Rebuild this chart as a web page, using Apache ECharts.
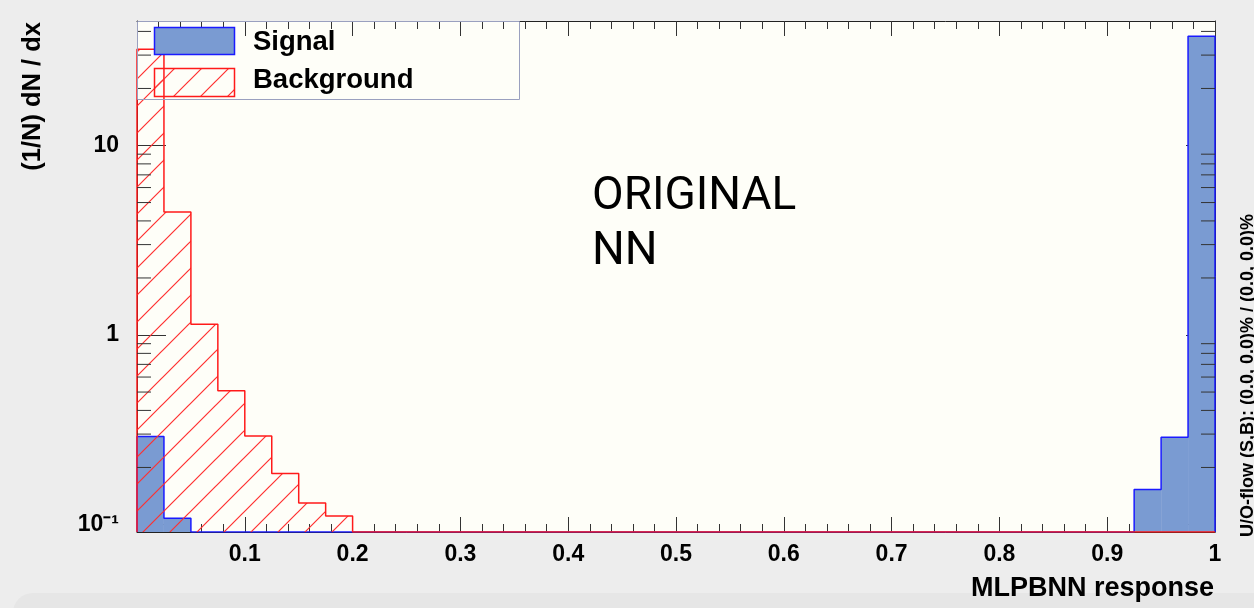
<!DOCTYPE html>
<html><head><meta charset="utf-8">
<script src="https://cdn.jsdelivr.net/npm/echarts@6/dist/echarts.min.js"></script>
<style>html,body{margin:0;padding:0;background:#ededed}#c{width:1254px;height:608px}</style>
</head><body><div id="c"></div>
<script>
// ---- data ----
const binEdges = [0,0.025,0.05,0.075,0.1,0.125,0.15,0.175,0.2,0.225,0.25,0.275,0.3,0.325,0.35,0.375,0.4,0.425,0.45,0.475,0.5,0.525,0.55,0.575,0.6,0.625,0.65,0.675,0.7,0.725,0.75,0.775,0.8,0.825,0.85,0.875,0.9,0.925,0.95,0.975,1];
const signal = [0.291,0.108,0,0,0,0,0,0,0,0,0,0,0,0,0,0,0,0,0,0,0,0,0,0,0,0,0,0,0,0,0,0,0,0,0,0,0,0.153,0.289,37.7];
const background = [32.2,4.46,1.14,0.508,0.293,0.186,0.130,0.111,0,0,0,0,0,0,0,0,0,0,0,0,0,0,0,0,0,0,0,0,0,0,0,0,0,0,0,0,0,0,0,0];
const xTickValues = [0,0.1,0.2,0.3,0.4,0.5,0.6,0.7,0.8,0.9,1];
const yTickValues = [0.1,1,10];
const yTickLabels = ['10⁻¹','1','10'];
const yMinorTicks = [0.2,0.3,0.4,0.5,0.6,0.7,0.8,0.9,2,3,4,5,6,7,8,9,20,30,40];
const seriesNames = ['Signal','Background'];
const Y_MIN = 0.0913, Y_MAX = 45.4;

// ---- styles ----
const SIG_FILL = '#7a9bd2', SIG_LINE = '#1a1aff', BKG_LINE = '#ff1a1a', HATCH = '#ff3030';
const HATCH_STEP = 27;
function hatchCanvas(){
  const s = HATCH_STEP, c = document.createElement('canvas');
  c.width = s; c.height = s;
  const g = c.getContext('2d');
  g.clearRect(0, 0, s, s);
  g.strokeStyle = HATCH; g.lineWidth = 1.2;
  g.beginPath();
  g.moveTo(-2, s+2); g.lineTo(s+2, -2);
  g.moveTo(-2, 2); g.lineTo(2, -2);
  g.moveTo(s-2, s+2); g.lineTo(s+2, s-2);
  g.stroke();
  return c;
}
const hatchImg = hatchCanvas();
const hatch = () => ({image: hatchImg, repeat: 'repeat'});

function binData(vals){
  const out = [];
  vals.forEach((v,i)=>{ if (v>0) out.push([binEdges[i], binEdges[i+1], v]); });
  return out;
}
function outlineData(vals){
  const out = [[0, Y_MIN]];
  vals.forEach((v,i)=> out.push([binEdges[i], Math.max(v, Y_MIN)]));
  out.push([1, Math.max(vals[vals.length-1], Y_MIN)]);
  out.push([1, Y_MIN]);
  return out;
}
function fillRender(params, api){
  const p0 = api.coord([api.value(0), api.value(2)]);
  const p1 = api.coord([api.value(1), Y_MIN]);
  return {type:'rect', shape:{x:p0[0], y:p0[1], width:p1[0]-p0[0], height:p1[1]-p0[1]}, style:{fill:SIG_FILL, stroke:null}};
}

const chart = echarts.init(document.getElementById('c'), null, {renderer:'canvas'});
const bold = 'Liberation Sans, Arial, sans-serif';
const tickColor = '#333';

const xAxisBase = {
  type:'value', min:0, max:1, interval:0.1,
  axisLine:{show:true, onZero:false, lineStyle:{color:'#222', width:1}},
  axisTick:{show:true, inside:true, length:15, lineStyle:{color:tickColor}},
  minorTick:{show:true, splitNumber:5, length:8, lineStyle:{color:tickColor}},
  splitLine:{show:false}
};
const yAxisBase = {
  type:'log', logBase:10, min:Y_MIN, max:Y_MAX,
  axisLine:{show:true, onZero:false, lineStyle:{color:'#222', width:1}},
  axisTick:{show:true, inside:true, length:29, customValues:yTickValues, lineStyle:{color:tickColor}},
  splitLine:{show:false}
};

const staticGraphics = [
  {id:'panel', type:'rect', z:-10, shape:{x:13, y:593, width:1300, height:40, r:20}, style:{fill:'#e6e6e6'}},
  {id:'lgBox', type:'rect', z:50, shape:{x:137.5, y:21.5, width:382, height:78}, style:{fill:null, stroke:'#9aa0bf', lineWidth:1}},
  {id:'lgS', type:'rect', z:50, shape:{x:154.5, y:27.5, width:80, height:27}, style:{fill:SIG_FILL, stroke:SIG_LINE, lineWidth:1.5}},
  {id:'lgB', type:'rect', z:50, shape:{x:154.5, y:68.5, width:80, height:28}, style:{fill:hatch(), stroke:BKG_LINE, lineWidth:1.5}},
  {id:'lgST', type:'text', z:50, x:253, y:42, style:{text:seriesNames[0], font:'bold 27.5px Liberation Sans, Arial, sans-serif', fill:'#000', verticalAlign:'middle'}},
  {id:'lgBT', type:'text', z:50, x:253, y:80, style:{text:seriesNames[1], font:'bold 27.5px Liberation Sans, Arial, sans-serif', fill:'#000', verticalAlign:'middle'}},
  {id:'note', type:'text', z:50, x:592, y:170, style:{text:'ORIGINAL\nNN', font:'46px Roboto, sans-serif', lineHeight:55, fill:'#000', verticalAlign:'top'}},
  {id:'xt', type:'text', z:50, x:1214, y:589, style:{text:'MLPBNN response', font:'bold 27px Liberation Sans, Arial, sans-serif', fill:'#000', align:'right', verticalAlign:'middle'}},
  {id:'yt', type:'text', z:50, x:33, y:22, rotation:Math.PI/2, style:{text:'(1/N) dN / dx', font:'bold 25.5px Liberation Sans, Arial, sans-serif', fill:'#000', align:'right', verticalAlign:'middle'}},
  {id:'uo', type:'text', z:50, x:1248, y:537, rotation:Math.PI/2, style:{text:'U/O-flow (S,B): (0.0, 0.0)% / (0.0, 0.0)%', font:'bold 18px Liberation Sans, Arial, sans-serif', fill:'#000', align:'left', verticalAlign:'middle'}}
];

chart.setOption({
  animation:false,
  backgroundColor:'#ededed',
  color:[SIG_FILL, SIG_LINE, BKG_LINE, tickColor],
  grid:{left:137, right:39, top:21, bottom:76, show:true, backgroundColor:'#fefef8', borderWidth:0},
  xAxis:[
    Object.assign({}, xAxisBase, {position:'bottom',
      axisLabel:{show:true, margin:11, fontFamily:bold, fontWeight:'bold', fontSize:23, color:'#000',
        customValues: xTickValues,
        formatter:(v)=> v===0 ? '' : String(+v.toFixed(1))}}),
    Object.assign({}, xAxisBase, {position:'top', axisLabel:{show:false}})
  ],
  yAxis:[
    Object.assign({}, yAxisBase, {position:'left',
      axisLabel:{show:true, margin:18, customValues:yTickValues, fontFamily:bold, fontWeight:'bold', fontSize:23, color:'#000',
        formatter:(v)=> { const i = yTickValues.findIndex(t=>Math.abs(t-v)<1e-9*Math.max(1,t)); return i>=0 ? yTickLabels[i] : ''; }}}),
    Object.assign({}, yAxisBase, {position:'right', axisLabel:{show:false}})
  ],
  series:[
    {name:seriesNames[0], type:'custom', renderItem:fillRender, data:binData(signal),
     itemStyle:{color:SIG_FILL}, encode:{x:[0,1], y:2}, z:1, silent:true, clip:true},
    {name:seriesNames[0]+' outline', type:'line', step:'end', data:outlineData(signal), symbol:'none',
     itemStyle:{color:SIG_LINE}, lineStyle:{color:SIG_LINE, width:1.5}, z:2, silent:true, clip:true},
    {name:seriesNames[1], type:'line', step:'end', data:outlineData(background), symbol:'none',
     itemStyle:{color:BKG_LINE}, lineStyle:{color:BKG_LINE, width:1.5},
     z:4, silent:true, clip:true},
    {name:'minor y ticks', type:'custom', silent:true, clip:false, z:5,
     itemStyle:{color:tickColor},
     data:yMinorTicks.map(v=>[0,v]),
     renderItem:function(params, api){
       const v = api.value(1);
       const p = api.coord([0, v]), q = api.coord([1, v]);
       return {type:'group', children:[
         {type:'line', shape:{x1:p[0], y1:p[1], x2:p[0]+14, y2:p[1]}, style:{stroke:tickColor, lineWidth:1}},
         {type:'line', shape:{x1:q[0]-14, y1:q[1], x2:q[0], y2:q[1]}, style:{stroke:tickColor, lineWidth:1}}
       ]};
     }}
  ],
  graphic: staticGraphics
});

// hatched area of the background histogram, placed through the chart's own axes
const finder = {xAxisIndex:0, yAxisIndex:0};
const pts = [chart.convertToPixel(finder, [0, Y_MIN])];
background.forEach((v,i)=>{
  const y = Math.max(v, Y_MIN);
  pts.push(chart.convertToPixel(finder, [binEdges[i], y]));
  pts.push(chart.convertToPixel(finder, [binEdges[i+1], y]));
});
pts.push(chart.convertToPixel(finder, [1, Y_MIN]));
chart.setOption({graphic: staticGraphics.concat([
  {id:'bkgHatch', type:'polygon', z:3, silent:true, shape:{points:pts}, style:{fill:hatch(), stroke:null}}
])});
</script>
</body></html>
